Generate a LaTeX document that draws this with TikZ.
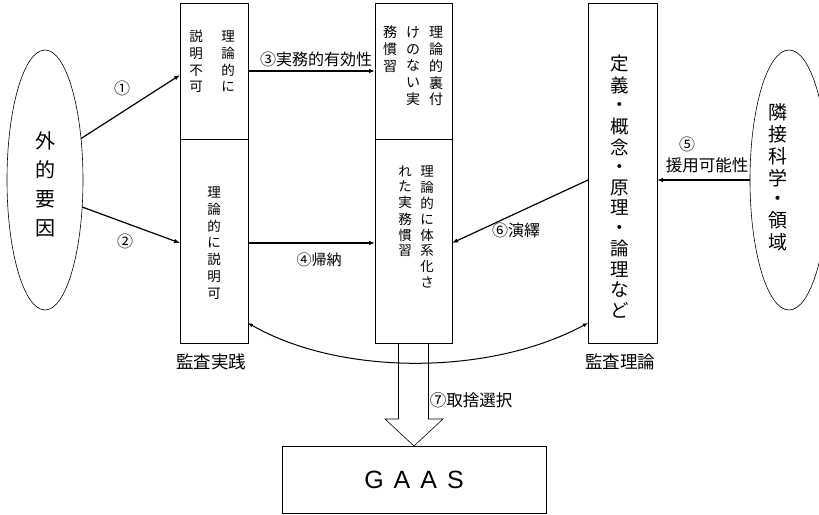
\documentclass[tikz,border=0pt]{standalone}
\usepackage{fontspec}
\setmainfont{Noto Sans CJK JP}
\newfontfamily\gaasfont{Liberation Sans}
\usetikzlibrary{arrows.meta,positioning,shapes.geometric}

\newcommand\tate[1]{\begin{tabular}[t]{@{}c@{}}#1\end{tabular}}

\begin{document}
\begin{tikzpicture}[x=1pt,y=-1pt,
	box/.style={draw,line width=0.6pt,inner sep=0,outer sep=0},
	oval/.style={draw,ellipse,line width=0.6pt,inner sep=0,outer sep=0,minimum width=76pt,minimum height=260pt},
	link/.style={-{Latex[length=6pt,width=4.5pt]},line width=1.2pt},
	lbl/.style={inner sep=0,font=\fontsize{16}{18}\selectfont},
	tatetext/.style={anchor=north,inner sep=0}]
	\useasboundingbox (0,0) rectangle (819,514);
	\node[box,minimum width=68pt,minimum height=136pt] (pracTop) at (214,71) {};
	\node[box,minimum width=68pt,minimum height=204pt] (pracBot) at (214,241) {};
	\node[box,line width=1pt,minimum width=77pt,minimum height=136pt] (midTop) at (413.5,71) {};
	\node[box,minimum width=77pt,minimum height=204pt] (midBot) at (413.5,241) {};
	\node[box,minimum width=69pt,minimum height=340pt] (theory) at (622.5,173) {};
	\node[oval] (ext) at (45,180) {};
	\node[oval,minimum width=78pt] (nbr) at (789,180) {};
	\node[box,minimum width=264pt,minimum height=67pt] (gaas) at (414,479.5) {\gaasfont\fontsize{25}{30}\selectfont G\hspace{10pt}A\hspace{10pt}A\hspace{10pt}S};
	\node[tatetext,font=\fontsize{13.5}{16.7}\selectfont] (tA) at (212,30) {\tate{説\\明\\不\\可}\hspace{18.5pt}\tate{理\\論\\的\\に}};
	\node[tatetext,font=\fontsize{13.5}{16.7}\selectfont] (tB) at (214,186) {\tate{理\\論\\的\\に\\説\\明\\可}};
	\node[tatetext,font=\fontsize{14}{16.5}\selectfont] (tC) at (413,26) {\tate{務\\慣\\習}\hspace{9pt}\tate{け\\の\\な\\い\\実}\hspace{9pt}\tate{理\\論\\的\\裏\\付}};
	\node[tatetext,font=\fontsize{13.5}{15.7}\selectfont] (tD) at (416,165) {\tate{れ\\た\\実\\務\\慣\\習}\hspace{8.5pt}\tate{理\\論\\的\\に\\体\\系\\化\\さ}};
	\node[tatetext,font=\fontsize{18.5}{19.5}\selectfont] (tE) at (620,55) {\tate{定\\義\\・\\概\\念\\・\\原\\理\\・\\論\\理\\な\\ど}};
	\node[tatetext,font=\fontsize{20}{29}\selectfont] (tF) at (45,128) {\tate{外\\的\\要\\因}};
	\node[tatetext,font=\fontsize{19}{20}\selectfont] (tG) at (778,103) {\tate{隣\\接\\科\\学\\・\\領\\域}};
	\draw[link] (ext.49) -- ([yshift=-4pt]pracTop.west);
	\draw[link] (ext.-36) -- ([yshift=-2pt]pracBot.west);
	\draw[link] (pracTop.east) -- (midTop.west);
	\draw[link] ([yshift=-2pt]pracBot.east) -- ([yshift=-2pt]midBot.west);
	\draw[link] (nbr.west) -- (nbr.west -| theory.east);
	\draw[link] (nbr.west -| theory.west) -- ([yshift=-2pt]midBot.east);
	\draw[{Latex[length=5pt,width=4pt]}-{Latex[length=5pt,width=4pt]},line width=1pt] ([yshift=20pt]pracBot.south east) .. controls (340,376) and (490,376) .. ([yshift=20pt]theory.south west);
	\draw[line width=0.6pt] ([xshift=-15pt]midBot.south) |- ([xshift=-29pt,yshift=27pt]gaas.north) -- (gaas.north) -- ([xshift=29pt,yshift=27pt]gaas.north) -| ([xshift=15pt]midBot.south);
	\node[lbl] (n1) at (122,88) {①};
	\node[lbl] (n2) at (125,241) {②};
	\node[lbl] (n3) at (316,59) {③実務的有効性};
	\node[lbl,font=\fontsize{15}{18}\selectfont] (n4) at (319,260) {④帰納};
	\node[lbl] (n5) at (687,144) {⑤};
	\node[lbl,font=\fontsize{16.5}{18}\selectfont] (n5b) at (707,165) {援用可能性};
	\node[lbl] (n6) at (516,230) {⑥演繹};
	\node[lbl,font=\fontsize{16.5}{18}\selectfont] (n7) at (471,400) {⑦取捨選択};
	\node[lbl,font=\fontsize{17.5}{20}\selectfont] (pracLbl) at (211,362) {監査実践};
	\node[lbl,font=\fontsize{17.5}{20}\selectfont] (theoryLbl) at (620,362) {監査理論};
\end{tikzpicture}
\end{document}
